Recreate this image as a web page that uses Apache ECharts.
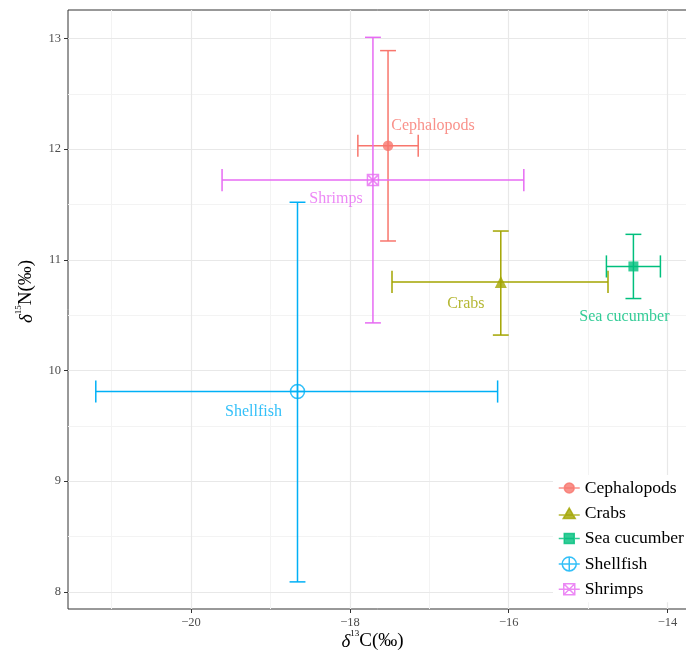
<!DOCTYPE html>
<html>
<head>
<meta charset="utf-8">
<script src="https://cdn.jsdelivr.net/npm/echarts@6/dist/echarts.min.js"></script>
<style>html,body{margin:0;padding:0;background:#fff;}#c{width:686px;height:655px;}</style>
</head>
<body>
<div id="c"></div>
<script>
// ---- data ----
const groups   = ['Cephalopods', 'Crabs', 'Sea cucumber', 'Shellfish', 'Shrimps'];
const d13C     = [-17.52, -16.10, -14.43, -18.66, -17.71];
const d13C_lo  = [-17.90, -17.47, -14.77, -21.20, -19.61];
const d13C_hi  = [-17.14, -14.75, -14.09, -16.14, -15.81];
const d15N     = [12.03, 10.80, 10.94, 9.81, 11.72];
const d15N_lo  = [11.17, 10.32, 10.65, 8.09, 10.43];
const d15N_hi  = [12.89, 11.26, 11.23, 11.52, 13.01];
const xMajorTicks = [-20, -18, -16, -14];
const xMinorTicks = [-21, -19, -17, -15];
const yMajorTicks = [8, 9, 10, 11, 12, 13];
const yMinorTicks = [8.5, 9.5, 10.5, 11.5, 12.5];

// ---- styling ----
const colors = ['#F8766D', '#A3A500', '#00BF7D', '#00B0F6', '#E76BF3'];
const FONT = 'Liberation Serif';
const CAP = 0.1; // half cap size in data units
const symbols = [
  'circle',
  'triangle',
  'rect',
  'path://M0 7 L14 7 M7 0 L7 14 M14 7 A7 7 0 1 1 0 7 A7 7 0 1 1 14 7 Z',
  'path://M0 0 L11 0 L11 11 L0 11 Z M0 0 L11 11 M11 0 L0 11'
];
const symbolSizes = [10.5, 12, 10, 14, 11];
const hollow = [false, false, false, true, true];
const legendIcons = [
  'path://M0 5 L21 5 M15.5 5 A5 5 0 1 1 5.5 5 A5 5 0 1 1 15.5 5 Z',
  'path://M0 7 L21 7 M10.5 0 L16.5 10.5 L4.5 10.5 Z',
  'path://M0 5 L21 5 M5.5 0 L15.5 0 L15.5 10 L5.5 10 Z',
  'path://M0 7 L21 7 M10.5 0 L10.5 14 M17.5 7 A7 7 0 1 1 3.5 7 A7 7 0 1 1 17.5 7 Z',
  'path://M0 5.5 L21 5.5 M5 0 L16 0 L16 11 L5 11 Z M5 0 L16 11 M16 0 L5 11'
];
const labelOffsets = [[45, -20], [-35, 22], [-9, 50], [-44, 20], [-37, 19]];

const errData = groups.map((g, i) => [d13C[i], d15N[i], d13C_lo[i], d13C_hi[i], d15N_lo[i], d15N_hi[i], i]);

function renderErr(params, api) {
  const x = api.value(0), y = api.value(1);
  const xl = api.value(2), xh = api.value(3), yl = api.value(4), yh = api.value(5);
  const c = colors[api.value(6)];
  const p = (a, b) => api.coord([a, b]);
  const segs = [
    [p(xl, y), p(xh, y)],
    [p(xl, y - CAP), p(xl, y + CAP)],
    [p(xh, y - CAP), p(xh, y + CAP)],
    [p(x, yl), p(x, yh)],
    [p(x - CAP, yl), p(x + CAP, yl)],
    [p(x - CAP, yh), p(x + CAP, yh)]
  ];
  return {
    type: 'group',
    children: segs.map(s => ({
      type: 'line',
      shape: { x1: s[0][0], y1: s[0][1], x2: s[1][0], y2: s[1][1] },
      style: { stroke: c, lineWidth: 1.5 }
    }))
  };
}

const gridLineSeries = {
  type: 'scatter', data: [], z: 1, silent: true,
  markLine: {
    z: 1, silent: true, symbol: 'none', label: { show: false }, animation: false,
    emphasis: { disabled: true },
    data: [
      ...xMinorTicks.map(v => ({ xAxis: v, lineStyle: { color: '#F3F3F3', width: 1, type: 'solid' } })),
      ...yMinorTicks.map(v => ({ yAxis: v, lineStyle: { color: '#F3F3F3', width: 1, type: 'solid' } })),
      ...xMajorTicks.map(v => ({ xAxis: v, lineStyle: { color: '#E8E8E8', width: 1.2, type: 'solid' } })),
      ...yMajorTicks.map(v => ({ yAxis: v, lineStyle: { color: '#E8E8E8', width: 1.2, type: 'solid' } }))
    ]
  }
};

const scatterSeries = groups.map((g, i) => ({
  name: g,
  type: 'scatter',
  z: 4,
  data: [[d13C[i], d15N[i]]],
  symbol: symbols[i],
  symbolSize: symbolSizes[i],
  itemStyle: hollow[i]
    ? { color: 'rgba(0,0,0,0)', borderColor: colors[i], borderWidth: 1.5 }
    : { color: colors[i] },
  label: {
    show: true, formatter: g, position: 'inside', offset: labelOffsets[i],
    color: colors[i], fontFamily: FONT, fontSize: 16
  },
  emphasis: { disabled: true }
}));

const titleRich = {
  i: { fontFamily: FONT, fontStyle: 'italic', fontSize: 19, color: '#000', verticalAlign: 'bottom', lineHeight: 22 },
  s: { fontFamily: FONT, fontSize: 9, color: '#000', verticalAlign: 'top', lineHeight: 22 },
  n: { fontFamily: FONT, fontSize: 19, color: '#000', verticalAlign: 'bottom', lineHeight: 22 }
};

const chart = echarts.init(document.getElementById('c'), null, { renderer: 'canvas' });
chart.setOption({
  animation: false,
  backgroundColor: '#fff',
  grid: {
    left: 68, top: 10, width: 621, height: 599,
    outerBoundsMode: 'none', containLabel: false,
    show: true, borderColor: '#333333', borderWidth: 1, backgroundColor: '#fff'
  },
  xAxis: {
    type: 'value', min: -21.55, max: -13.73,
    axisLine: { show: false },
    splitLine: { show: false },
    axisTick: { show: true, customValues: xMajorTicks, length: 4, lineStyle: { color: '#333', width: 1 } },
    axisLabel: {
      customValues: xMajorTicks, margin: 7,
      formatter: v => String(v).replace('-', '\u2212'),
      color: '#4D4D4D', fontFamily: FONT, fontSize: 12.5
    },
    name: '{i|δ}{s|13}{n|C(‰)}',
    nameLocation: 'middle', nameGap: 20, nameMoveOverlap: false,
    nameTextStyle: { padding: [0, 12, 0, 0], rich: titleRich }
  },
  yAxis: {
    type: 'value', min: 7.845, max: 13.257,
    axisLine: { show: false },
    splitLine: { show: false },
    axisTick: { show: true, customValues: yMajorTicks, length: 4, lineStyle: { color: '#333', width: 1 } },
    axisLabel: {
      customValues: yMajorTicks, margin: 7,
      color: '#4D4D4D', fontFamily: FONT, fontSize: 12.5
    },
    name: '{i|δ}{s|15}{n|N(‰)}',
    nameLocation: 'middle', nameGap: 32, nameRotate: 90, nameMoveOverlap: false,
    nameTextStyle: { padding: [0, 0, 0, 36], rich: titleRich }
  },
  legend: {
    orient: 'vertical', left: 553, top: 475, z: 6,
    backgroundColor: '#fff',
    padding: [4, 8, 4, 5],
    itemWidth: 21, itemHeight: 14, itemGap: 7.3,
    symbolKeepAspect: true,
    selectedMode: false,
    textStyle: { fontFamily: FONT, fontSize: 17.6, color: '#000', lineHeight: 18, padding: [0, 0, 0, 0] },
    data: groups.map((g, i) => ({
      name: g,
      icon: legendIcons[i],
      itemStyle: hollow[i]
        ? { color: 'rgba(0,0,0,0)', borderColor: colors[i], borderWidth: 1.5 }
        : { color: colors[i], borderColor: colors[i], borderWidth: 1.5 }
    }))
  },
  series: [
    gridLineSeries,
    {
      type: 'custom', name: 'errorbars', z: 3,
      renderItem: renderErr,
      encode: { x: [0, 2, 3], y: [1, 4, 5] },
      data: errData,
      silent: true
    },
    ...scatterSeries
  ]
});
</script>
</body>
</html>
